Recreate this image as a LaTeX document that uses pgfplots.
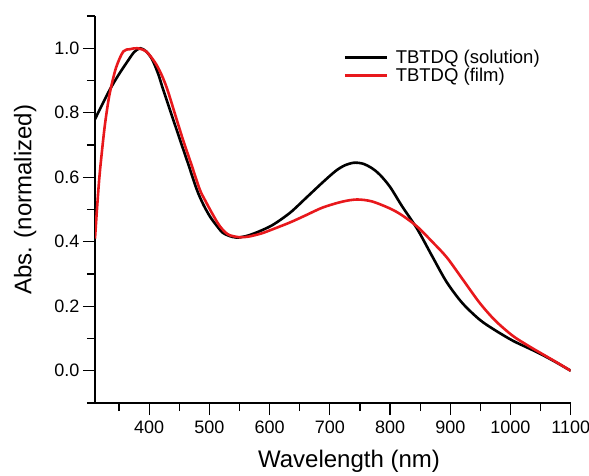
\documentclass[border=0pt]{standalone}
\usepackage{fontspec}
\setmainfont{Liberation Sans}
\usepackage{pgfplots}
\pgfplotsset{compat=1.18}
\definecolor{filmred}{RGB}{232,24,28}

\begin{document}
\begin{tikzpicture}
\begin{axis}[
    scale only axis,
    width=475.7pt, height=387pt,
    xmin=310, xmax=1100,
    ymin=-0.1, ymax=1.1,
    axis x line*=bottom,
    axis y line*=left,
    axis line style={line width=1.3pt},
    tick align=outside,
    tick style={line width=1.3pt, black},
    major tick length=12pt,
    minor tick length=8pt,
    xtick={400,500,...,1100},
    minor xtick={350,450,...,1050},
    ytick={0,0.2,...,1.0},
    minor ytick={-0.1,0.1,0.3,0.5,0.7,0.9,1.1},
    yticklabel style={/pgf/number format/fixed, /pgf/number format/fixed zerofill, /pgf/number format/precision=1},
    xticklabel style={/pgf/number format/1000 sep={}, yshift=-2pt},
    /pgf/number format/assume math mode=true,
    tick label style={font=\fontsize{18}{20}\selectfont},
    label style={font=\fontsize{24}{26}\selectfont},
    xlabel={Wavelength (nm)},
    ylabel={Abs. (normalized)},
    xlabel style={at={(axis description cs:0.534,-0.15)}, anchor=center},
    ylabel style={at={(axis description cs:-0.147,0.525)}, anchor=center},
    legend style={at={(axis description cs:0.516,0.922)}, anchor=north west, draw=none, fill=none,
        font=\fontsize{18.5}{20}\selectfont, nodes={inner sep=1.5pt}, row sep=0pt},
    legend cell align=left,
    legend image code/.code={\draw[#1] (0pt,0pt) -- (42pt,0pt); \path (48pt,0pt);},
    legend image post style={line width=2.6pt},
]
\addplot[black, line width=2.6pt, smooth] coordinates {
(310,0.78) (320,0.818) (335,0.873) (350,0.92) (365,0.962) (375,0.988) (385,1.0)
(395,0.99) (405,0.965) (415,0.92) (423,0.873) (437,0.795) (451,0.717) (465,0.64)
(479,0.562) (490,0.515) (501,0.478) (512,0.45) (522,0.428) (533,0.418) (545,0.413)
(560,0.417) (580,0.43) (605,0.452) (634,0.49) (660,0.535) (688,0.584) (710,0.62)
(725,0.637) (740,0.645) (755,0.642) (770,0.628) (783,0.608) (800,0.57) (820,0.51)
(845,0.44) (870,0.355) (894,0.275) (920,0.21) (949,0.158) (975,0.125) (1004,0.093)
(1030,0.07) (1050,0.052) (1075,0.027) (1100,0.0)
};
\addlegendentry{TBTDQ (solution)}
\addplot[filmred, line width=2.6pt, smooth] coordinates {
(310,0.41) (314,0.52) (318,0.615) (325,0.74) (330,0.81) (335,0.865) (345,0.94)
(357,0.99) (368,0.997) (380,1.0) (395,0.99) (410,0.955) (420,0.92) (430,0.873)
(443,0.795) (456,0.717) (470,0.64) (484,0.562) (493,0.528) (501,0.5) (510,0.47)
(517,0.449) (526,0.43) (534,0.42) (550,0.414) (565,0.416) (585,0.425) (600,0.435)
(634,0.46) (660,0.482) (688,0.506) (720,0.524) (745,0.531) (770,0.525) (800,0.503)
(820,0.482) (845,0.447) (870,0.40) (894,0.352) (920,0.285) (949,0.21) (975,0.155)
(1004,0.108) (1030,0.077) (1050,0.055) (1075,0.028) (1100,0.0)
};
\addlegendentry{TBTDQ (film)}
\coordinate (sw) at (rel axis cs:0,0);
\coordinate (ne) at (rel axis cs:1,1);
\end{axis}
\pgfresetboundingbox
\path ([shift={(-95pt,-72pt)}]sw) rectangle ([shift={(18.3pt,16pt)}]ne);
\end{tikzpicture}
\end{document}
